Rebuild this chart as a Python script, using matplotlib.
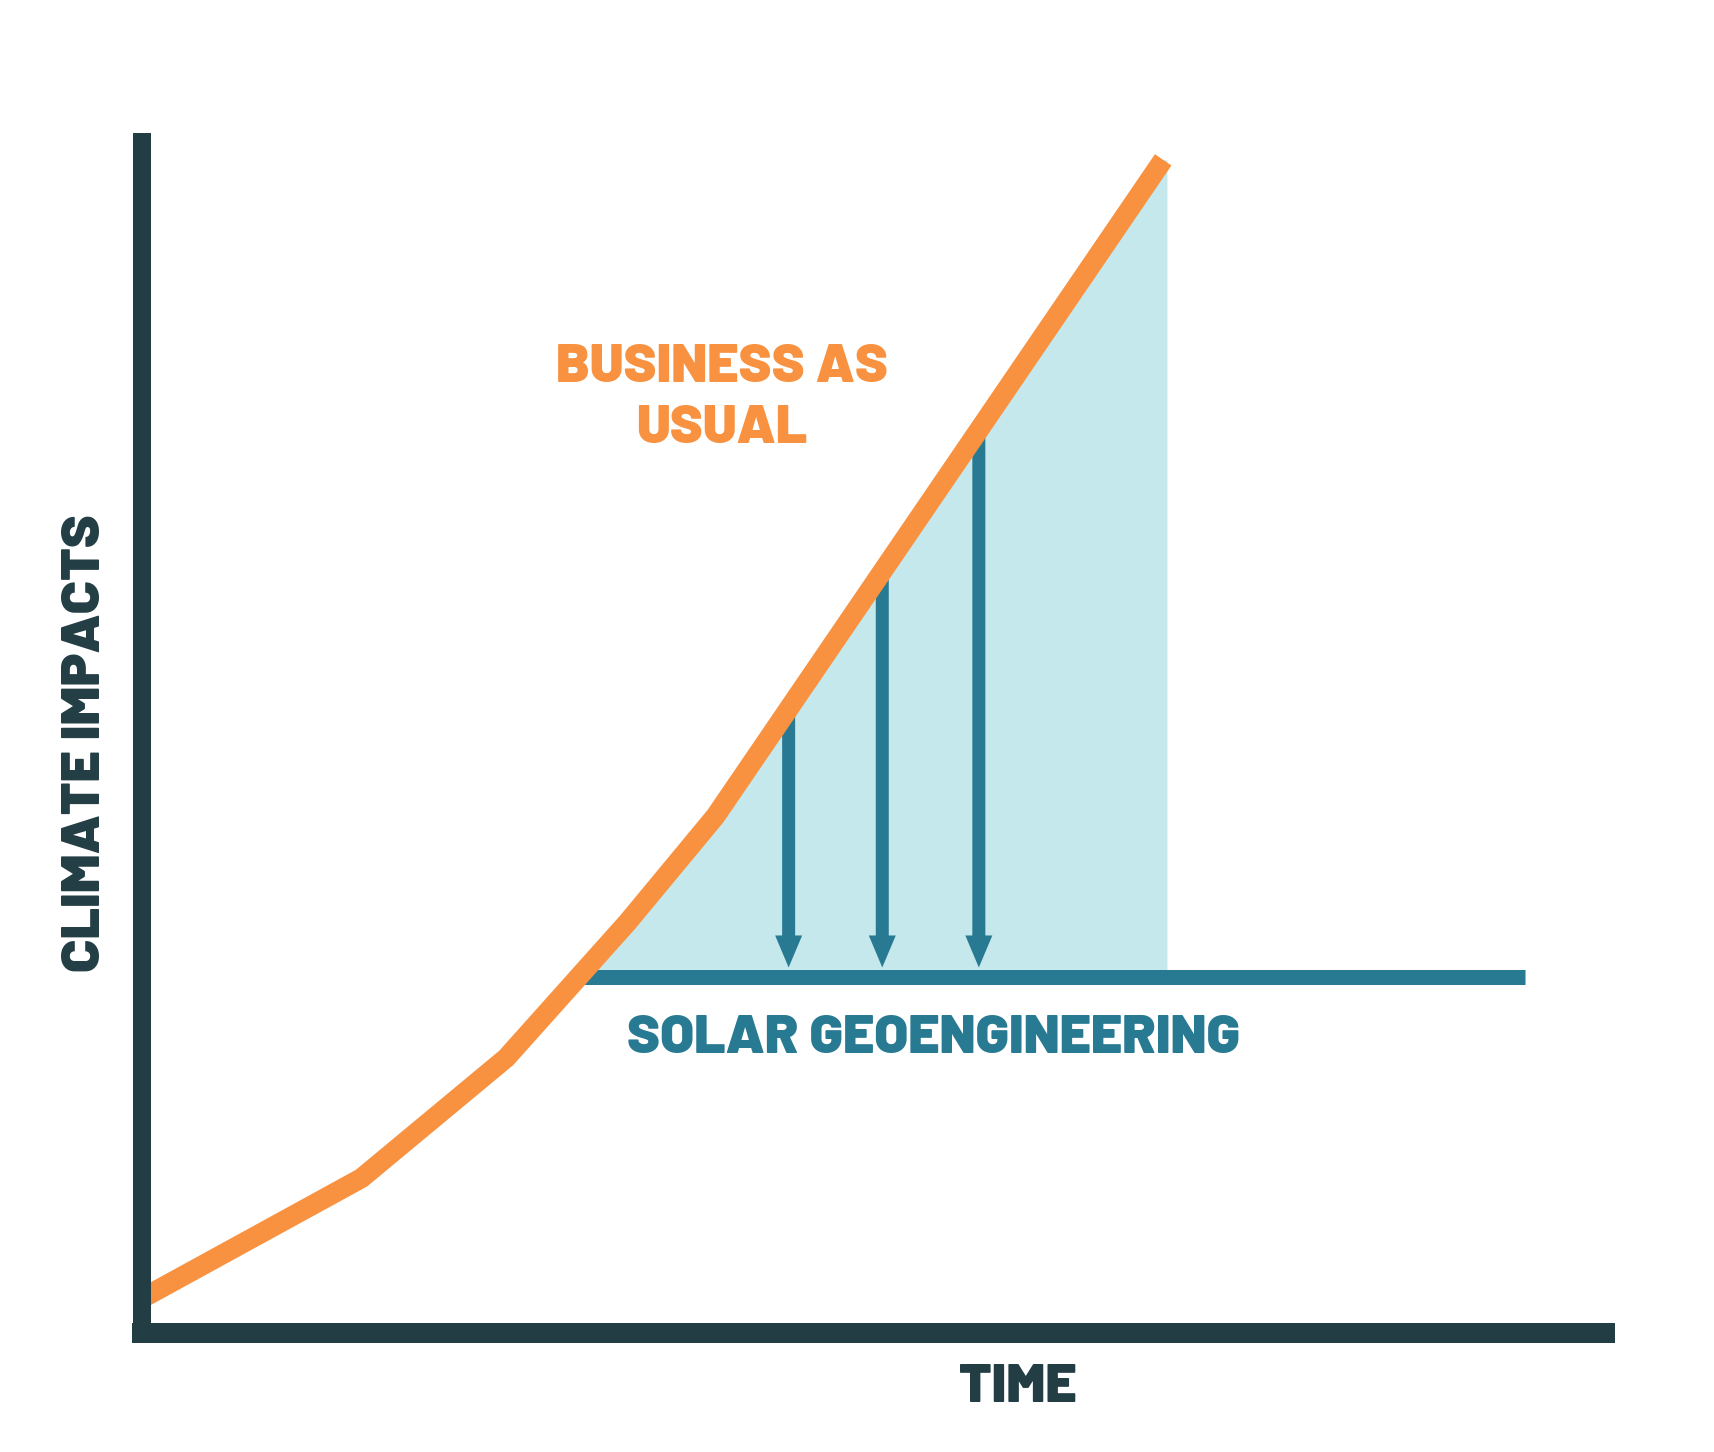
import numpy as np
import matplotlib
matplotlib.use("Agg")
import matplotlib.pyplot as plt

# ---------------- data (arbitrary units) ----------------
time = [0.0, 15.0, 24.9, 33.2, 39.2, 69.8]
business_as_usual = [2.9, 13.0, 23.1, 34.5, 43.4, 98.5]
solar_level = 29.85
solar_start = 29.9
solar_end = 94.5
fill_end = 70.06
arrow_times = [44.2, 50.6, 57.2]
arrow_tip_gap = 0.84

label_bau = ["BUSINESS AS", "USUAL"]
label_solar = "SOLAR GEOENGINEERING"
label_x = "TIME"
label_y = "CLIMATE IMPACTS"

# ---------------- style ----------------
ORANGE = "#F89240"
DARK = "#233D44"
TEAL = "#287A93"
LIGHT = "#C5E8EC"
FONT = ["Barlow", "DejaVu Sans"]
FS = 39.5

W, H = 1714, 1452
fig = plt.figure(figsize=(W / 100, H / 100), dpi=100)
fig.patch.set_facecolor("white")
ax = fig.add_axes([142 / W, (H - 1333) / H, (1605 - 142) / W, (1333 - 142) / H])
ax.set_xlim(0, 100)
ax.set_ylim(0, 100)
ax.set_xticks([])
ax.set_yticks([])
for s in ("top", "right"):
    ax.spines[s].set_visible(False)
ax.spines["left"].set_linewidth(18 * 0.72)
ax.spines["bottom"].set_linewidth(20 * 0.72)
for s in ("left", "bottom"):
    ax.spines[s].set_color(DARK)
    ax.spines[s].set_capstyle("projecting")
    ax.spines[s].set_zorder(5)

# shaded area between business-as-usual and geoengineering
t_cross = float(np.interp(solar_level, business_as_usual, time))
xs = np.linspace(t_cross, fill_end, 500)
ys = np.interp(xs, time, business_as_usual)
ax.fill_between(xs, solar_level, ys, color=LIGHT, lw=0, zorder=1)

# arrows
px_x = 1463 / 100.0
px_y = 1191 / 100.0
for t in arrow_times:
    y0 = float(np.interp(t, time, business_as_usual))
    y1 = solar_level + arrow_tip_gap
    ax.arrow(t, y0, 0, y1 - y0, width=13 / px_x, head_width=27 / px_x,
             head_length=32 / px_y, length_includes_head=True,
             color=TEAL, lw=0, zorder=2)

# geoengineering line
ax.plot([solar_start, solar_end], [solar_level, solar_level], color=TEAL,
        lw=15 * 0.72, solid_capstyle="butt", zorder=2)

# business as usual line
ax.plot(time, business_as_usual, color=ORANGE, lw=20 * 0.72,
        solid_capstyle="butt", solid_joinstyle="miter", zorder=3,
        clip_on=False)

common = dict(fontsize=FS, fontweight=900, family=FONT, clip_on=False)
ax.text(39.64, 79.85, label_bau[0], color=ORANGE, ha="center", va="baseline", **common)
ax.text(39.64, 74.73, label_bau[1], color=ORANGE, ha="center", va="baseline", **common)
ax.text(54.1, 23.51, label_solar, color=TEAL, ha="center", va="baseline", **common)
ax.text(59.87, -5.79, label_x, color=DARK, ha="center", va="baseline", **common)
ax.text(-2.87, 49.54, label_y, color=DARK, ha="center", va="baseline",
        rotation=90, rotation_mode="anchor", **common)

fig.savefig("out.png", dpi=100, facecolor="white")
